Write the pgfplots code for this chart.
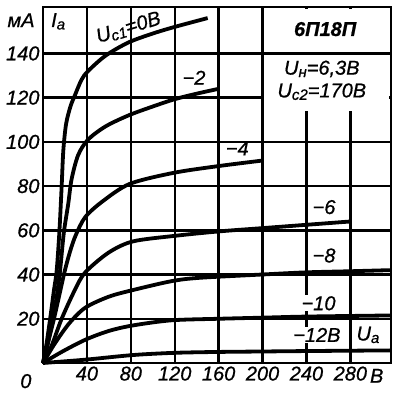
\documentclass[border=0pt]{standalone}
\usepackage{fontspec}
\setmainfont{Liberation Sans}
\newfontfamily\gost{Liberation Sans}[FakeBold=0.8]
\usepackage{pgfplots}
\pgfplotsset{compat=1.18}
\newcommand\lf{\fontsize{20}{20}\selectfont\gost\itshape}
\newcommand\sub[1]{\lower2.5pt\hbox{\fontsize{15}{15}\selectfont\gost\itshape #1}}
\begin{document}
\begin{tikzpicture}
\begin{axis}[
  width=348pt, height=356pt, scale only axis,
  xmin=0, xmax=317, ymin=0, ymax=161,
  xtick={40,80,...,280}, ytick={20,40,...,140},
  xmajorgrids=true, ymajorgrids=true,
  major grid style={black, line width=2.4pt},
  axis line style={black, line width=2.6pt},
  major tick length=0pt,
  ticklabel style={font=\lf},
  /pgf/number format/assume math mode=true,
  clip=false,
  cycle list={{black, solid}},
  every axis plot/.append style={line width=3.8pt, black, solid, no markers, smooth, tension=0.5},
]
\coordinate (bl) at (rel axis cs:0,0);
\coordinate (tr) at (rel axis cs:1,1);
% Uc1 = 0
\addplot coordinates {(0,0) (3,8) (6.5,20) (10,33) (12.5,42) (15,60) (17,80) (18.5,96) (21,108) (25,116) (29,121) (35,128) (41,132) (57,139) (78,145) (100,149) (120,152) (150,156)};
% -2
\addplot coordinates {(0,0) (4,8) (9,20) (12.5,30) (15.6,42) (19,59) (23,72) (26,83) (32,94) (41,101) (57,107) (78,112) (100,116) (120,119.3) (140,121.8) (160,124)};
% -4
\addplot coordinates {(0,0) (5,10) (10,20) (15,31) (20,42) (25,51) (30,58) (38.5,66) (54,73) (79,81) (119,86) (159,89) (199,91.5)};
% -6
\addplot coordinates {(0,0) (8,8) (17,20) (29,33) (38.5,41) (60,50) (82,55) (120,57.5) (160,59.5) (200,61) (240,62.5) (280,64)};
% -8
\addplot coordinates {(0,0) (11,9) (24,18) (38.5,25) (60,30) (82,33) (117,37) (142,38.5) (199,40) (240,41) (280,41.5) (317,42)};
% -10
\addplot coordinates {(0,0) (17,5) (38.5,10.5) (60,14.5) (82,17) (117,19.3) (160,20) (200,20.5) (240,21) (317,21.5)};
% -12
\addplot coordinates {(0,0) (38.5,1.5) (82,3.6) (120,4.6) (160,5) (200,5.2) (240,5.4) (317,5.7)};

% info box (covers grid)
\fill[white] (axis cs:201.4,114) rectangle (axis cs:315.3,139.2);
\fill[white] (axis cs:201.4,140.8) rectangle (axis cs:315.3,160.1);

\node[font=\lf, rotate=17] at (axis cs:78,151.5) {U\sub{c1}=0В};
\node[font=\lf] at (axis cs:137.6,129) {−2};
\node[font=\lf] at (axis cs:177,97) {−4};
\node[font=\lf] at (axis cs:256,70.5) {−6};
\node[font=\lf] at (axis cs:256,48.6) {−8};
\node[font=\lf, fill=white, inner sep=1pt] at (axis cs:251,27) {−10};
\node[font=\lf, fill=white, inner sep=1pt] at (axis cs:249.5,12.7) {−12В};
\node[font=\lf] at (axis cs:296,12.7) {U\sub{а}};
\node[font=\lf\bfseries] at (axis cs:257,151) {6П18П};
\node[font=\lf] at (axis cs:254,133) {U\sub{н}=6,3В};
\node[font=\lf] at (axis cs:254,122.7) {U\sub{c2}=170В};
\node[font=\lf] at (axis cs:13.8,154.5) {I\sub{а}};
\node[font=\lf] at (axis cs:-20,155) {мА};
\node[font=\lf] at (axis cs:-15.6,-8.2) {0};
\node[font=\lf] at (axis cs:304,-5.8) {В};
\end{axis}
\pgfresetboundingbox
\path[use as bounding box] ([xshift=-43pt,yshift=-30pt]bl) rectangle ([xshift=9pt,yshift=7pt]tr);
\end{tikzpicture}
\end{document}
